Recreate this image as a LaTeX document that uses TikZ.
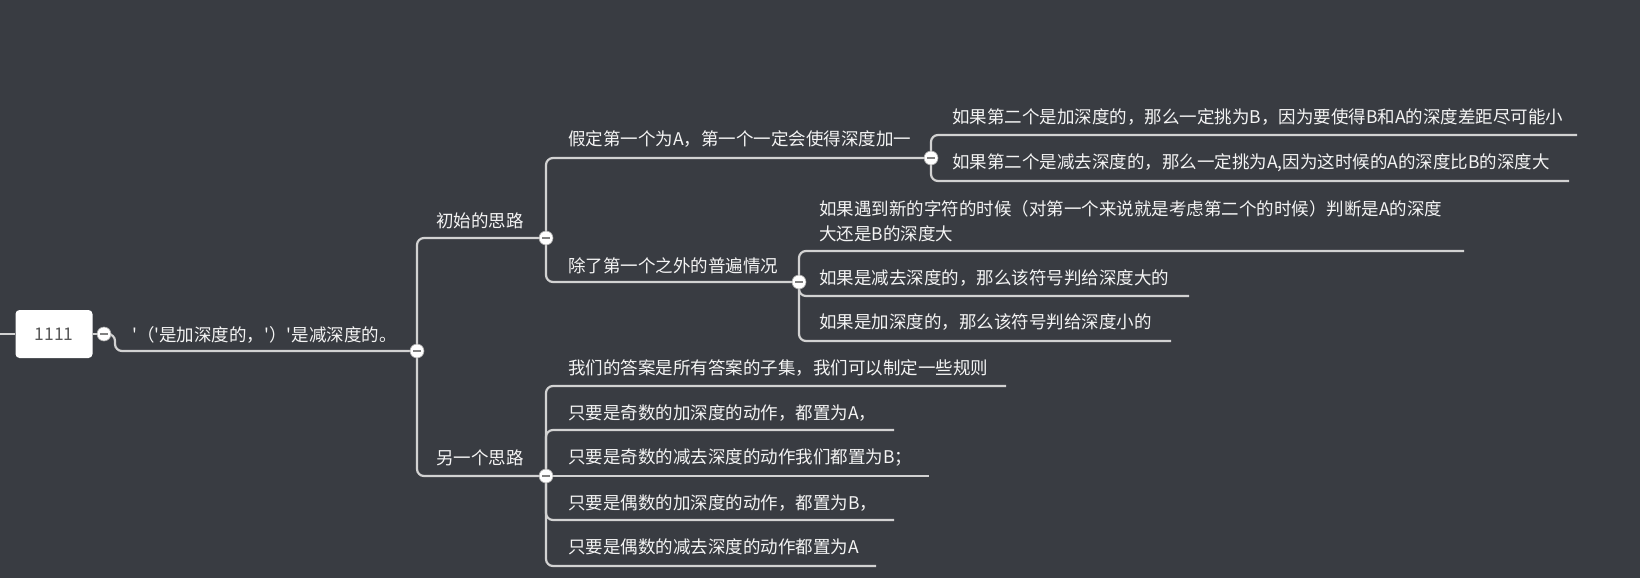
\documentclass[tikz,border=0pt]{standalone}
\usepackage{fontspec}
\newfontfamily\mindfont{Noto Sans CJK SC}
\definecolor{bgdark}{HTML}{393C42}
\definecolor{branchgray}{HTML}{D2D2D2}
\definecolor{labelwhite}{HTML}{F4F4F4}
\pgfdeclarelayer{back}
\pgfsetlayers{back,main}
\begin{document}
\begin{tikzpicture}[x=1pt, y=-1pt,
    branch/.style={draw=branchgray, line width=2.2pt, rounded corners=7pt},
    topic/.style={anchor=west, inner sep=0pt, text=labelwhite, align=left,
        font=\mindfont\fontsize{17.5}{25}\selectfont},
    fold/.style={circle, draw=gray!70, fill=white, line width=0.6pt,
        minimum size=14pt, inner sep=0pt,
        path picture={\draw[gray, line width=2.6pt]
            ([xshift=-4pt]path picture bounding box.center) --
            ([xshift=4pt]path picture bounding box.center);}}]

    % Root node and fold buttons
    \node[fill=white, rounded corners=4pt, minimum width=77pt, minimum height=48pt,
         text=black!65, font=\mindfont\fontsize{17.5}{17.5}\selectfont] (root) at (54,334) {1111};
    \coordinate (in) at (0,334);
    \node[fold] (f1) at (104,334) {};
    \node[fold] (f2) at (417,351) {};
    \node[fold] (f3) at (546,238) {};
    \node[fold] (f4) at (931,158) {};
    \node[fold] (f5) at (799,282) {};
    \node[fold] (f6) at (546,476) {};

    % Topics
    \node[topic] (t1) at (132,335) {'（'是加深度的，'）'是减深度的。};
    \node[topic] (t2) at (436,221) {初始的思路};
    \node[topic] (t3) at (568,139) {假定第一个为A，第一个一定会使得深度加一};
    \node[topic] (t4a) at (952,117) {如果第二个是加深度的，那么一定挑为B，因为要使得B和A的深度差距尽可能小};
    \node[topic] (t4b) at (952,163) {如果第二个是减去深度的，那么一定挑为A,因为这时候的A的深度比B的深度大};
    \node[topic] (t5) at (568,266) {除了第一个之外的普遍情况};
    \node[topic] (t5a) at (819,221) {如果遇到新的字符的时候（对第一个来说就是考虑第二个的时候）判断是A的深度\\大还是B的深度大};
    \node[topic] (t5b) at (819,278) {如果是减去深度的，那么该符号判给深度大的};
    \node[topic] (t5c) at (819,322) {如果是加深度的，那么该符号判给深度小的};
    \node[topic] (t6) at (436,458) {另一个思路};
    \node[topic] (t6a) at (568,368) {我们的答案是所有答案的子集，我们可以制定一些规则};
    \node[topic] (t6b) at (568,413) {只要是奇数的加深度的动作，都置为A，};
    \node[topic] (t6c) at (568,458) {只要是奇数的减去深度的动作我们都置为B；};
    \node[topic] (t6d) at (568,503) {只要是偶数的加深度的动作，都置为B，};
    \node[topic] (t6e) at (568,547) {只要是偶数的减去深度的动作都置为A};

    % Underline ends
    \coordinate (u4a) at (1577,135);
    \coordinate (u4b) at (1569,181);
    \coordinate (u5a) at (1464,251);
    \coordinate (u5b) at (1189,296);
    \coordinate (u5c) at (1171,341);
    \coordinate (u6a) at (1006,386);
    \coordinate (u6b) at (894,430);
    \coordinate (u6c) at (929,476);
    \coordinate (u6d) at (894,520);
    \coordinate (u6e) at (876,566);

\begin{pgfonlayer}{back}
    \fill[bgdark] (0,0) rectangle (1640,578);
    \useasboundingbox (0,0) rectangle (1640,578);

    % Branches
    \draw[branch] (in) -- (root.west);
    \draw[branch] (root.east) -- (f1.center);
    \draw[branch] (f1.center) -- ++(11,0) |- (f2.center);
    \draw[branch] (f2.center) |- (f3.center);
    \draw[branch] (f2.center) |- (f6.center);
    \draw[branch] (f3.center) |- (f4.center);
    \draw[branch] (f3.center) |- (f5.center);
    \draw[branch] (f4.center) |- (u4a);
    \draw[branch] (f4.center) |- (u4b);
    \draw[branch] (f5.center) |- (u5a);
    \draw[branch] (f5.center) |- (u5b);
    \draw[branch] (f5.center) |- (u5c);
    \draw[branch] (f6.center) |- (u6a);
    \draw[branch] (f6.center) |- (u6b);
    \draw[branch] (f6.center) -- (u6c);
    \draw[branch] (f6.center) |- (u6d);
    \draw[branch] (f6.center) |- (u6e);
\end{pgfonlayer}

\end{tikzpicture}
\end{document}
